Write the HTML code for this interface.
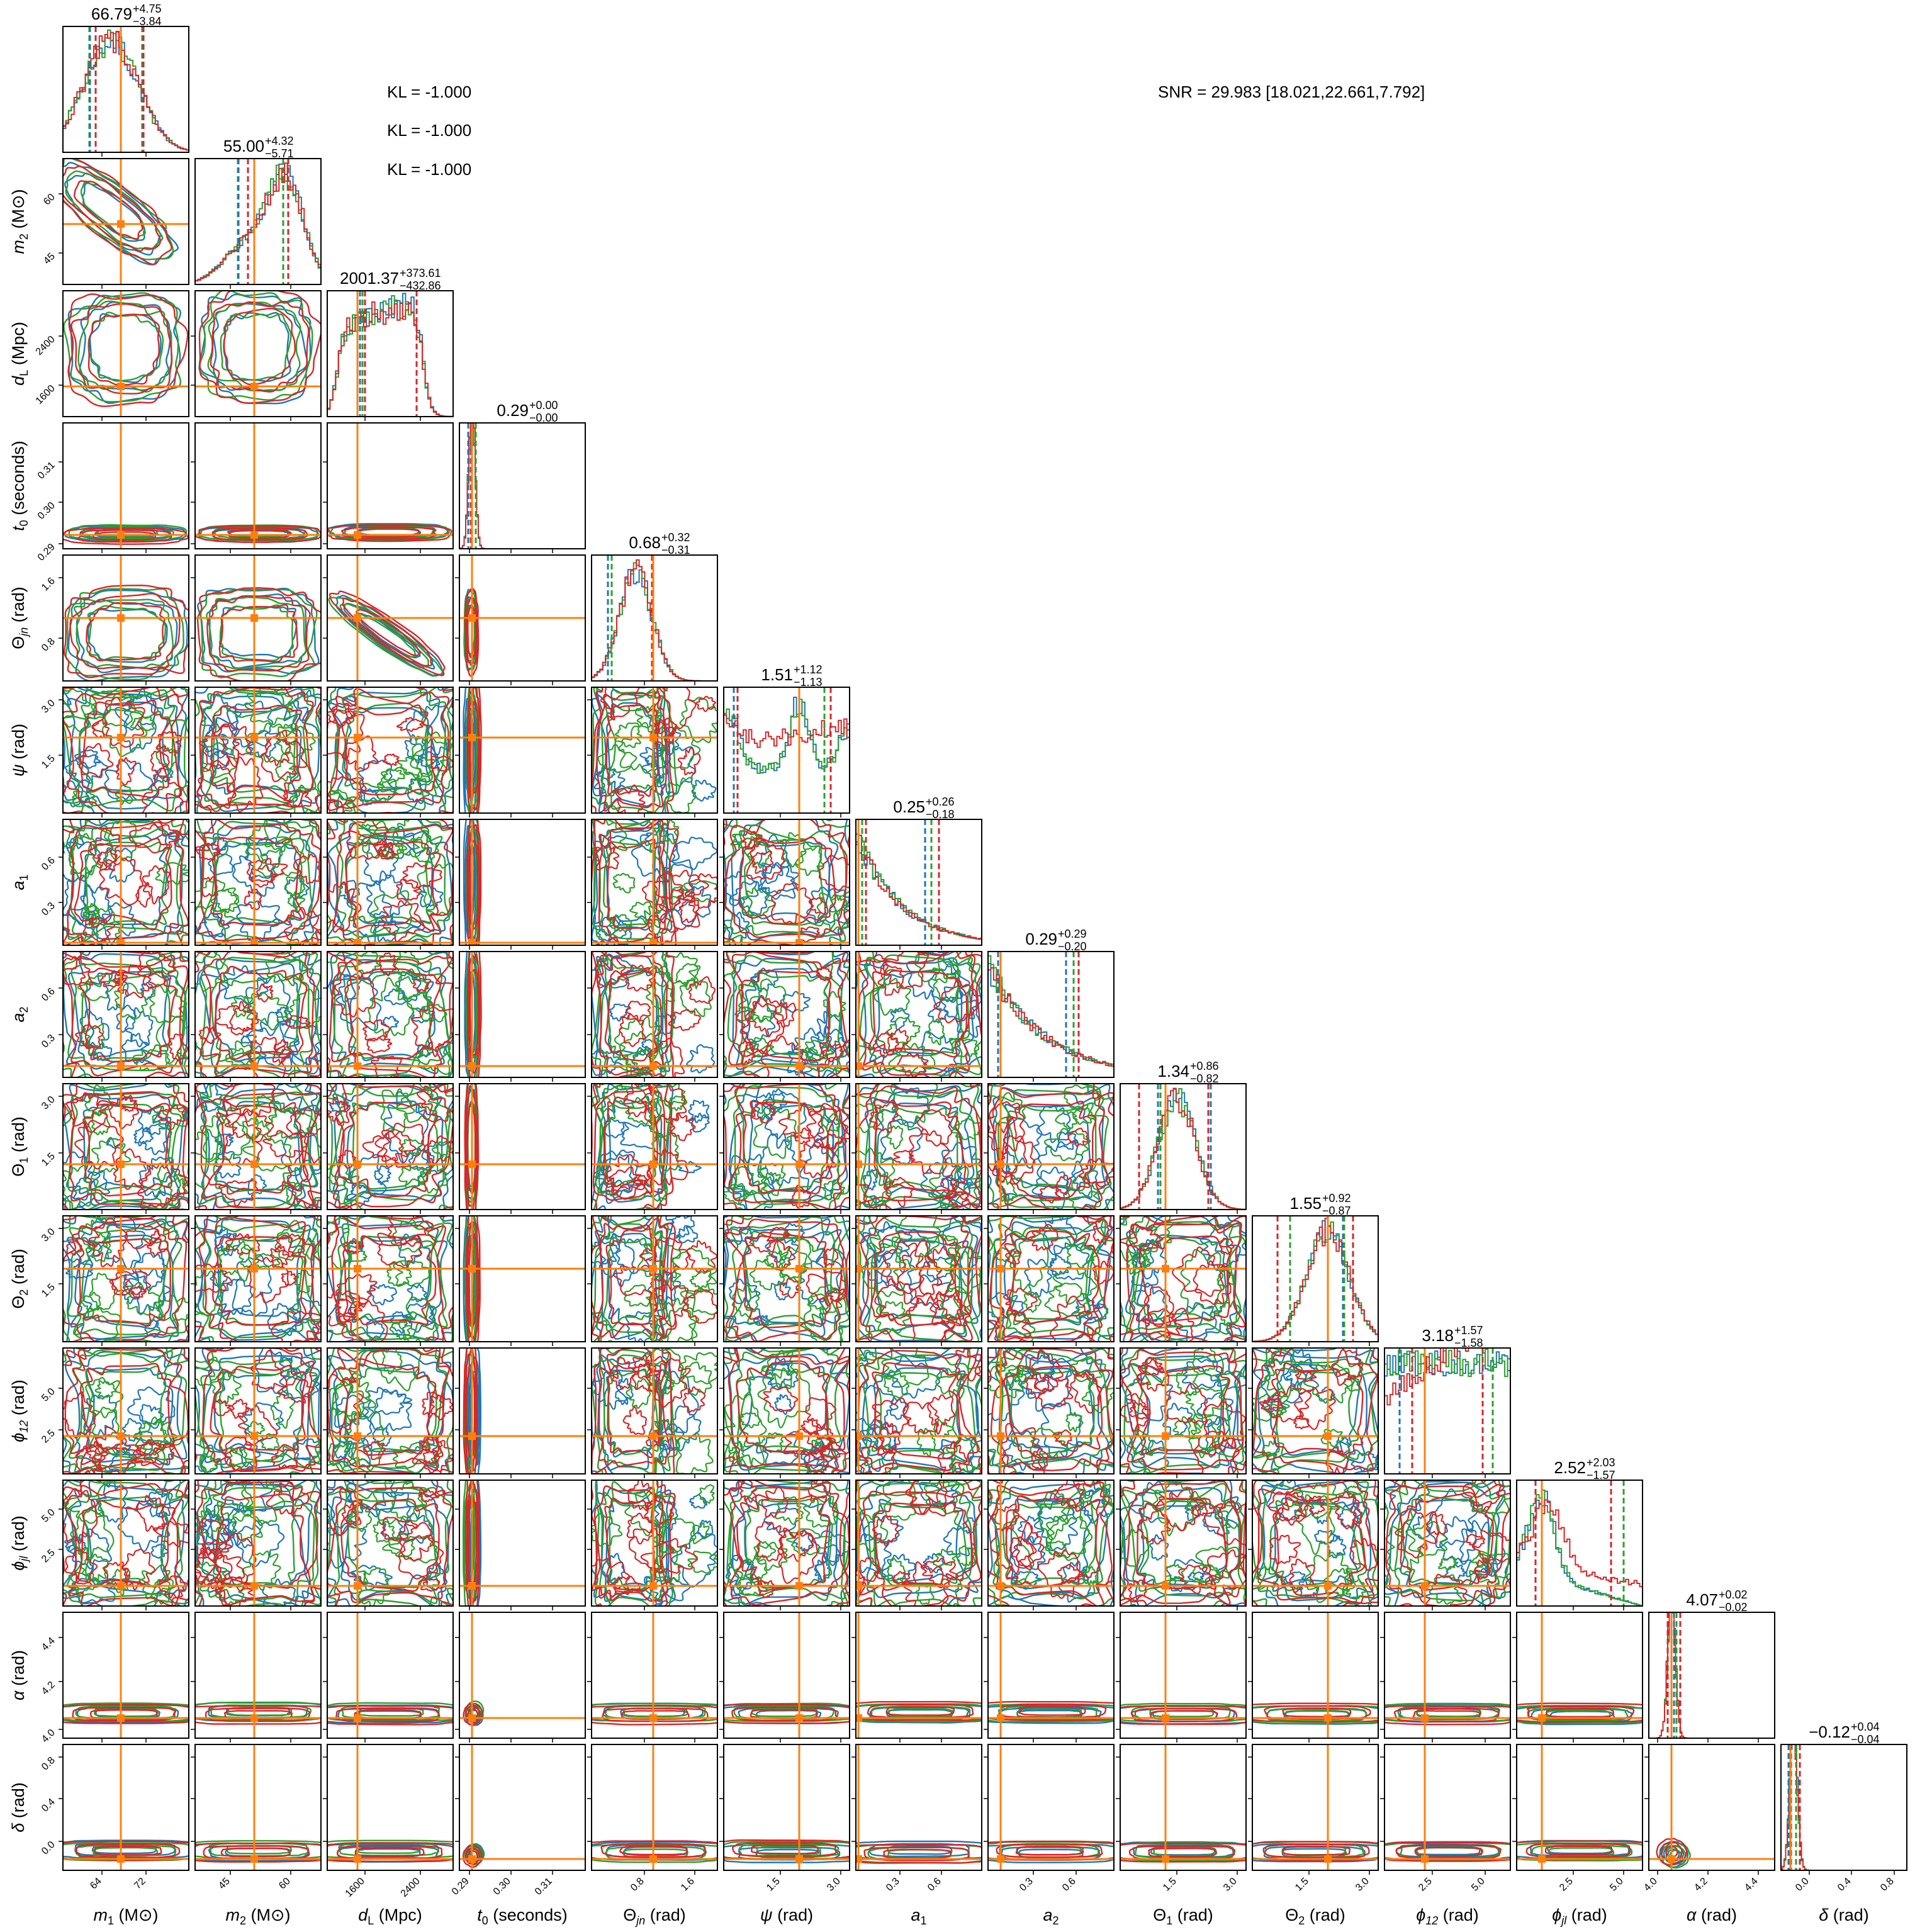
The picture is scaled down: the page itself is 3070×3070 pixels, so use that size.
<!DOCTYPE html>
<html><head><meta charset="utf-8"><style>
html,body{margin:0;padding:0;background:#fff;}
svg{display:block;font-family:"Liberation Sans","DejaVu Sans",sans-serif;}
</style></head><body>
<svg id="root" xmlns="http://www.w3.org/2000/svg" width="3070" height="3070" viewBox="0 0 3070 3070">
<rect width="3070" height="3070" fill="#fff"/>
<g id="plots"></g>
<g font-size="26" fill="#000">
<text x="615" y="155">KL = -1.000</text>
<text x="615" y="216">KL = -1.000</text>
<text x="615" y="278">KL = -1.000</text>
<text x="1840" y="155">SNR = 29.983 [18.021,22.661,7.792]</text>
</g>
<g font-size="26">
<text x="210" y="31" text-anchor="end">66.79</text><text x="211" y="20" font-size="18">+4.75</text><text x="211" y="40" font-size="18">−3.84</text>
<text x="420" y="241" text-anchor="end">55.00</text><text x="421" y="230" font-size="18">+4.32</text><text x="421" y="250" font-size="18">−5.71</text>
<text x="634" y="451" text-anchor="end">2001.37</text><text x="635" y="440" font-size="18">+373.61</text><text x="635" y="460" font-size="18">−432.86</text>
<text x="840" y="661" text-anchor="end">0.29</text><text x="841" y="650" font-size="18">+0.00</text><text x="841" y="670" font-size="18">−0.00</text>
<text x="1050" y="871" text-anchor="end">0.68</text><text x="1051" y="860" font-size="18">+0.32</text><text x="1051" y="880" font-size="18">−0.31</text>
<text x="1260" y="1081" text-anchor="end">1.51</text><text x="1261" y="1070" font-size="18">+1.12</text><text x="1261" y="1090" font-size="18">−1.13</text>
<text x="1470" y="1291" text-anchor="end">0.25</text><text x="1471" y="1280" font-size="18">+0.26</text><text x="1471" y="1300" font-size="18">−0.18</text>
<text x="1680" y="1501" text-anchor="end">0.29</text><text x="1681" y="1490" font-size="18">+0.29</text><text x="1681" y="1510" font-size="18">−0.20</text>
<text x="1890" y="1711" text-anchor="end">1.34</text><text x="1891" y="1700" font-size="18">+0.86</text><text x="1891" y="1720" font-size="18">−0.82</text>
<text x="2100" y="1921" text-anchor="end">1.55</text><text x="2101" y="1910" font-size="18">+0.92</text><text x="2101" y="1930" font-size="18">−0.87</text>
<text x="2310" y="2131" text-anchor="end">3.18</text><text x="2311" y="2120" font-size="18">+1.57</text><text x="2311" y="2140" font-size="18">−1.58</text>
<text x="2520" y="2341" text-anchor="end">2.52</text><text x="2521" y="2330" font-size="18">+2.03</text><text x="2521" y="2350" font-size="18">−1.57</text>
<text x="2730" y="2551" text-anchor="end">4.07</text><text x="2731" y="2540" font-size="18">+0.02</text><text x="2731" y="2560" font-size="18">−0.02</text>
<text x="2940" y="2761" text-anchor="end">−0.12</text><text x="2941" y="2750" font-size="18">+0.04</text><text x="2941" y="2770" font-size="18">−0.04</text>
</g>
<g font-size="16" text-anchor="end">
<text x="162" y="2990" transform="rotate(-45 162 2990)">64</text>
<text x="232" y="2990" transform="rotate(-45 232 2990)">72</text>
<text x="366" y="2990" transform="rotate(-45 366 2990)">45</text>
<text x="462" y="2990" transform="rotate(-45 462 2990)">60</text>
<text x="580" y="2990" transform="rotate(-45 580 2990)">1600</text>
<text x="668" y="2990" transform="rotate(-45 668 2990)">2400</text>
<text x="746" y="2990" transform="rotate(-45 746 2990)">0.29</text>
<text x="812" y="2990" transform="rotate(-45 812 2990)">0.30</text>
<text x="878" y="2990" transform="rotate(-45 878 2990)">0.31</text>
<text x="1024" y="2990" transform="rotate(-45 1024 2990)">0.8</text>
<text x="1104" y="2990" transform="rotate(-45 1104 2990)">1.6</text>
<text x="1240" y="2990" transform="rotate(-45 1240 2990)">1.5</text>
<text x="1336" y="2990" transform="rotate(-45 1336 2990)">3.0</text>
<text x="1430" y="2990" transform="rotate(-45 1430 2990)">0.3</text>
<text x="1496" y="2990" transform="rotate(-45 1496 2990)">0.6</text>
<text x="1642" y="2990" transform="rotate(-45 1642 2990)">0.3</text>
<text x="1710" y="2990" transform="rotate(-45 1710 2990)">0.6</text>
<text x="1870" y="2990" transform="rotate(-45 1870 2990)">1.5</text>
<text x="1966" y="2990" transform="rotate(-45 1966 2990)">3.0</text>
<text x="2080" y="2990" transform="rotate(-45 2080 2990)">1.5</text>
<text x="2176" y="2990" transform="rotate(-45 2176 2990)">3.0</text>
<text x="2276" y="2990" transform="rotate(-45 2276 2990)">2.5</text>
<text x="2360" y="2990" transform="rotate(-45 2360 2990)">5.0</text>
<text x="2500" y="2990" transform="rotate(-45 2500 2990)">2.5</text>
<text x="2580" y="2990" transform="rotate(-45 2580 2990)">5.0</text>
<text x="2634" y="2990" transform="rotate(-45 2634 2990)">4.0</text>
<text x="2714" y="2990" transform="rotate(-45 2714 2990)">4.2</text>
<text x="2794" y="2990" transform="rotate(-45 2794 2990)">4.4</text>
<text x="2875" y="2990" transform="rotate(-45 2875 2990)">0.0</text>
<text x="2942" y="2990" transform="rotate(-45 2942 2990)">0.4</text>
<text x="3010" y="2990" transform="rotate(-45 3010 2990)">0.8</text>

<text x="88" y="314" transform="rotate(-45 88 314)">60</text>
<text x="88" y="408" transform="rotate(-45 88 408)">45</text>
<text x="88" y="540" transform="rotate(-45 88 540)">2400</text>
<text x="88" y="618" transform="rotate(-45 88 618)">1600</text>
<text x="88" y="740" transform="rotate(-45 88 740)">0.31</text>
<text x="88" y="804" transform="rotate(-45 88 804)">0.30</text>
<text x="88" y="870" transform="rotate(-45 88 870)">0.29</text>
<text x="88" y="924" transform="rotate(-45 88 924)">1.6</text>
<text x="88" y="1020" transform="rotate(-45 88 1020)">0.8</text>
<text x="88" y="1118" transform="rotate(-45 88 1118)">3.0</text>
<text x="88" y="1206" transform="rotate(-45 88 1206)">1.5</text>
<text x="88" y="1368" transform="rotate(-45 88 1368)">0.6</text>
<text x="88" y="1440" transform="rotate(-45 88 1440)">0.3</text>
<text x="88" y="1576" transform="rotate(-45 88 1576)">0.6</text>
<text x="88" y="1650" transform="rotate(-45 88 1650)">0.3</text>
<text x="88" y="1748" transform="rotate(-45 88 1748)">3.0</text>
<text x="88" y="1838" transform="rotate(-45 88 1838)">1.5</text>
<text x="88" y="1958" transform="rotate(-45 88 1958)">3.0</text>
<text x="88" y="2046" transform="rotate(-45 88 2046)">1.5</text>
<text x="88" y="2212" transform="rotate(-45 88 2212)">5.0</text>
<text x="88" y="2278" transform="rotate(-45 88 2278)">2.5</text>
<text x="88" y="2404" transform="rotate(-45 88 2404)">5.0</text>
<text x="88" y="2468" transform="rotate(-45 88 2468)">2.5</text>
<text x="88" y="2608" transform="rotate(-45 88 2608)">4.4</text>
<text x="88" y="2678" transform="rotate(-45 88 2678)">4.2</text>
<text x="88" y="2754" transform="rotate(-45 88 2754)">4.0</text>
<text x="88" y="2798" transform="rotate(-45 88 2798)">0.8</text>
<text x="88" y="2864" transform="rotate(-45 88 2864)">0.4</text>
<text x="88" y="2932" transform="rotate(-45 88 2932)">0.0</text>
</g>
<g font-size="27" text-anchor="middle">
<text x="200" y="3052"><tspan font-style="italic">m</tspan><tspan font-size="18" dy="6">1</tspan><tspan dy="-6"> (M⊙)</tspan></text>
<text x="410" y="3052"><tspan font-style="italic">m</tspan><tspan font-size="18" dy="6">2</tspan><tspan dy="-6"> (M⊙)</tspan></text>
<text x="620" y="3052"><tspan font-style="italic">d</tspan><tspan font-size="18" dy="6">L</tspan><tspan dy="-6"> (Mpc)</tspan></text>
<text x="830" y="3052"><tspan font-style="italic">t</tspan><tspan font-size="18" dy="6">0</tspan><tspan dy="-6"> (seconds)</tspan></text>
<text x="1040" y="3052">Θ<tspan font-size="18" dy="6" font-style="italic">jn</tspan><tspan dy="-6"> (rad)</tspan></text>
<text x="1250" y="3052"><tspan font-style="italic">ψ</tspan> (rad)</text>
<text x="1460" y="3052"><tspan font-style="italic">a</tspan><tspan font-size="18" dy="6">1</tspan></text>
<text x="1670" y="3052"><tspan font-style="italic">a</tspan><tspan font-size="18" dy="6">2</tspan></text>
<text x="1880" y="3052">Θ<tspan font-size="18" dy="6">1</tspan><tspan dy="-6"> (rad)</tspan></text>
<text x="2090" y="3052">Θ<tspan font-size="18" dy="6">2</tspan><tspan dy="-6"> (rad)</tspan></text>
<text x="2300" y="3052"><tspan font-style="italic">ϕ</tspan><tspan font-size="18" dy="6" font-style="italic">12</tspan><tspan dy="-6"> (rad)</tspan></text>
<text x="2510" y="3052"><tspan font-style="italic">ϕ</tspan><tspan font-size="18" dy="6" font-style="italic">jl</tspan><tspan dy="-6"> (rad)</tspan></text>
<text x="2720" y="3052"><tspan font-style="italic">α</tspan> (rad)</text>
<text x="2930" y="3052"><tspan font-style="italic">δ</tspan> (rad)</text>
</g>
<g font-size="27" text-anchor="middle">
<text transform="translate(38 352) rotate(-90)"><tspan font-style="italic">m</tspan><tspan font-size="18" dy="6">2</tspan><tspan dy="-6"> (M⊙)</tspan></text>
<text transform="translate(38 562) rotate(-90)"><tspan font-style="italic">d</tspan><tspan font-size="18" dy="6">L</tspan><tspan dy="-6"> (Mpc)</tspan></text>
<text transform="translate(38 772) rotate(-90)"><tspan font-style="italic">t</tspan><tspan font-size="18" dy="6">0</tspan><tspan dy="-6"> (seconds)</tspan></text>
<text transform="translate(38 982) rotate(-90)">Θ<tspan font-size="18" dy="6" font-style="italic">jn</tspan><tspan dy="-6"> (rad)</tspan></text>
<text transform="translate(38 1192) rotate(-90)"><tspan font-style="italic">ψ</tspan> (rad)</text>
<text transform="translate(38 1402) rotate(-90)"><tspan font-style="italic">a</tspan><tspan font-size="18" dy="6">1</tspan></text>
<text transform="translate(38 1612) rotate(-90)"><tspan font-style="italic">a</tspan><tspan font-size="18" dy="6">2</tspan></text>
<text transform="translate(38 1822) rotate(-90)">Θ<tspan font-size="18" dy="6">1</tspan><tspan dy="-6"> (rad)</tspan></text>
<text transform="translate(38 2032) rotate(-90)">Θ<tspan font-size="18" dy="6">2</tspan><tspan dy="-6"> (rad)</tspan></text>
<text transform="translate(38 2242) rotate(-90)"><tspan font-style="italic">ϕ</tspan><tspan font-size="18" dy="6" font-style="italic">12</tspan><tspan dy="-6"> (rad)</tspan></text>
<text transform="translate(38 2452) rotate(-90)"><tspan font-style="italic">ϕ</tspan><tspan font-size="18" dy="6" font-style="italic">jl</tspan><tspan dy="-6"> (rad)</tspan></text>
<text transform="translate(38 2662) rotate(-90)"><tspan font-style="italic">α</tspan> (rad)</text>
<text transform="translate(38 2872) rotate(-90)"><tspan font-style="italic">δ</tspan> (rad)</text>
</g>
</svg>
<script>
(function(){
var NS='http://www.w3.org/2000/svg';
var root=document.getElementById('plots');
function el(t,a,p){var e=document.createElementNS(NS,t);for(var k in a)e.setAttribute(k,a[k]);(p||root).appendChild(e);return e;}
var COL={b:'#1f77b4',g:'#2ca02c',r:'#d62728'},CK=['b','g','r'],OR='#ff7f0e';
function rng(a){return function(){a|=0;a=a+0x6D2B79F5|0;var t=Math.imul(a^a>>>15,1|a);t=t+Math.imul(t^t>>>7,61|t)^t;return((t^t>>>14)>>>0)/4294967296;};}
var X=[.46,.47,.24,.1,.49,.6,.02,.1,.36,.6,.32,.2,.18,.075];
var Y=[0,.52,.76,.89,.5,.4,.98,.91,.64,.42,.7,.84,.84,.91];
var XT=[[.31,.66],[.28,.76],[.3,.74],[.08,.41,.74],[.42,.82],[.45,.93],[.35,.68],[.36,.7],[.45,.93],[.45,.93],[.38,.8],[.45,.85],[.07,.47,.87],[.225,.56,.9]];
var YT=[[],[.28,.75],[.36,.75],[.31,.63,.96],[.18,.66],[.1,.54],[.3,.66],[.29,.66],[.1,.55],[.1,.54],[.32,.65],[.23,.55],[.2,.55,.93],[.1,.43,.77]];
function L(i){return 100+210*i;} function T(j){return 42+210*j;}
function blob(cx,cy,rx,ry,rot,n,noise,R){
  var hs=[];for(var k=2;k<=14;k++)hs.push([k,noise*(R()*2-1)*1.6/Math.sqrt(k),R()*6.283]);
  var d='',N=120,cr=Math.cos(rot*Math.PI/180),sr=Math.sin(rot*Math.PI/180);
  for(var i=0;i<N;i++){var t=i/N*6.2832,c=Math.cos(t),s=Math.sin(t);
    var x=rx*Math.sign(c)*Math.pow(Math.abs(c),2/n),y=ry*Math.sign(s)*Math.pow(Math.abs(s),2/n);
    var f=1;for(var q=0;q<hs.length;q++){f+=hs[q][1]*Math.sin(hs[q][0]*t+hs[q][2]);}
    x*=f;y*=f;var X2=(x*cr-y*sr+cx)*200,Y2=(x*sr+y*cr+cy)*200;
    d+=(i?'L':'M')+X2.toFixed(1)+' '+Y2.toFixed(1);}
  return d+'Z';}
function ang(v){return v>=5&&v<=11;}
function spec(r,c){
  var s={cx:.5,cy:.5,rx:.46,ry:.46,rot:0,n:4,noise:.05,lv:[1,.82,.62],msg:false};
  if(ang(r)||ang(c)){s.rx=.52;s.ry=.52;s.n=5;s.noise=.08;s.msg=true;}
  if(c==4&&r>=5&&r<=11){s.cx=.32;s.rx=.3;}
  if(r==4&&c<2){s.cy=.62;s.ry=.33;}
  if(r==4&&c==2)s={cx:.47,cy:.63,rx:.52,ry:.1,rot:35,n:2.2,noise:.03,lv:[1,.8,.55]};
  if(r==1&&c==0)s={cx:.38,cy:.42,rx:.55,ry:.2,rot:38,n:2.5,noise:.04,lv:[1,.8,.55]};
  if(r==2&&c<2){s.n=3;s.rx=.43;s.ry=.42;s.cy=.45;}
  if(c==3){if(r>=12)s={cx:.12,cy:r==12?.8:.87,rx:.07,ry:.08,rot:0,n:2,noise:.02,lv:[1,.75,.5]};
    else s={cx:.1,cy:r==4?.6:.5,rx:.05,ry:r==4?.32:.56,rot:0,n:2.5,noise:.03,lv:[1,.8,.6]};}
  if(r==3)s={cx:.5,cy:.88,rx:.47,ry:.06,rot:0,n:3,noise:.02,lv:[1,.75,.5]};
  if(r>=12&&c!=3){if(r==13&&c==12)s={cx:.2,cy:.87,rx:.11,ry:.1,rot:0,n:2,noise:.02,lv:[1,.7,.4]};
    else s={cx:.5,cy:r==12?.8:.85,rx:.56,ry:.07,rot:0,n:4,noise:.015,lv:[1,.7,.45]};}
  return s;}
function g(x,m,w){return Math.exp(-0.5*(x-m)*(x-m)/(w*w));}
function dens(i,x,k){switch(i){
 case 0:return g(x,.38,.22);
 case 1:return .75*g(x,.73,.14)+.35*g(x,.45,.2);
 case 2:return (1/(1+Math.exp(-(x-.08)/.03)))*(1/(1+Math.exp((x-.76)/.03)))*(.7+.3*x);
 case 3:return g(x,.1,.025);
 case 4:return g(x,.35,.13);
 case 5:return k==2?(.55+.2*g(x,0,.1)+.15*x):(.35+.55*g(x,.6,.08)+.55*g(x,0,.1)+.35*g(x,1,.08));
 case 6:return Math.exp(-x/.35);
 case 7:return Math.exp(-x/.45);
 case 8:return g(x,.45,.15);
 case 9:return g(x,.6,.17);
 case 10:return k==2?(.3+.4*x):.45;
 case 11:return k==2?(.4+.6*g(x,.25,.12)-.2*x):(.75*g(x,.2,.1)+.35*(1-x));
 case 12:return g(x,.18,.03);
 case 13:return g(x,.1,.03);}}
var DASH=[[[.21,'g'],[.215,'b'],[.26,'r'],[.63,'b'],[.635,'g'],[.64,'r']],
[[.34,'g'],[.345,'b'],[.42,'r'],[.7,'g'],[.74,'r']],
[[.26,'b'],[.28,'g'],[.3,'r'],[.71,'r']],
[[.07,'b'],[.09,'r'],[.13,'g']],
[[.13,'b'],[.16,'g'],[.48,'r'],[.49,'b']],
[[.08,'b'],[.11,'r'],[.8,'g'],[.85,'r']],
[[.05,'g'],[.08,'r'],[.55,'b'],[.6,'g'],[.66,'r']],
[[.08,'b'],[.1,'r'],[.62,'b'],[.68,'g'],[.72,'r']],
[[.15,'r'],[.3,'b'],[.32,'g'],[.7,'r'],[.72,'b']],
[[.2,'r'],[.3,'g'],[.72,'b'],[.73,'g'],[.8,'r']],
[[.12,'b'],[.22,'r'],[.78,'r'],[.86,'g']],
[[.15,'r'],[.75,'r'],[.85,'g']],
[[.15,'r'],[.2,'b'],[.22,'g'],[.25,'r']],
[[.06,'b'],[.08,'r'],[.12,'g'],[.15,'r']]];
var spikes={3:1,12:1,13:1};
for(var r=0;r<14;r++)for(var c=0;c<=r;c++){
  var sv=el('svg',{x:L(c),y:T(r),width:200,height:200,viewBox:'0 0 200 200'});
  var R=rng(r*97+c*13+7);
  if(r==c){
    var nb=spikes[r]?80:45;
    var ref=0;for(var b2=0;b2<200;b2++){ref=Math.max(ref,dens(r,(b2+.5)/200,0));}
    for(var k=0;k<3;k++){
      var vals=[];
      for(var b=0;b<nb;b++){var x=(b+.5)/nb;vals.push(dens(r,x,k)*(1+(R()-.5)*0.25));}
      var sc=spikes[r]?1.15:0.88;
      var d='M0 200';
      for(var b=0;b<nb;b++){var h=200-Math.min(vals[b]/ref*sc,1.3)*200;d+='L'+(b/nb*200).toFixed(1)+' '+h.toFixed(1)+'L'+((b+1)/nb*200).toFixed(1)+' '+h.toFixed(1);}
      d+='L200 200';
      el('path',{d:d,fill:'none',stroke:COL[CK[k]],'stroke-width':2},sv);
    }
    for(var q=0;q<DASH[r].length;q++){var dd=DASH[r][q];var xx=dd[0]*200;el('line',{x1:xx,y1:0,x2:xx,y2:200,stroke:COL[dd[1]],'stroke-width':3,'stroke-dasharray':'9 5'},sv);}
    el('line',{x1:X[c]*200,y1:0,x2:X[c]*200,y2:200,stroke:OR,'stroke-width':3},sv);
  } else {
    var s=spec(r,c);
    for(var k=0;k<3;k++){
      var ox=(R()-.5)*.04,oy=(R()-.5)*.04,scl=k==2?1.05:1;
      for(var li=0;li<s.lv.length;li++){var lv=s.lv[li];
        el('path',{d:blob(s.cx+ox,s.cy+oy,s.rx*lv*scl,s.ry*lv*scl,s.rot,s.n,s.noise,R),fill:'none',stroke:COL[CK[k]],'stroke-width':2.4},sv);
      }
      if(s.msg){for(var m=0;m<7;m++){var rr=.05+R()*.12;
        el('path',{d:blob(.08+R()*.84,.08+R()*.84,rr,rr*(.6+R()*.8),0,2,.15,R),fill:'none',stroke:COL[CK[k]],'stroke-width':2.2},sv);}}
    }
    var tx=X[c]*200,ty=Y[r]*200;
    el('line',{x1:tx,y1:0,x2:tx,y2:200,stroke:OR,'stroke-width':3},sv);
    el('line',{x1:0,y1:ty,x2:200,y2:ty,stroke:OR,'stroke-width':3},sv);
    el('rect',{x:tx-6,y:ty-6,width:12,height:12,fill:OR},sv);
  }
  el('rect',{x:L(c),y:T(r),width:200,height:200,fill:'none',stroke:'#000','stroke-width':2});
  for(var q=0;q<XT[c].length;q++){var xx=L(c)+XT[c][q]*200;el('line',{x1:xx,y1:T(r)+200,x2:xx,y2:T(r)+207,stroke:'#000','stroke-width':1.5});}
  if(r>c)for(var q=0;q<YT[r].length;q++){var yy=T(r)+YT[r][q]*200;el('line',{x1:L(c)-7,y1:yy,x2:L(c),y2:yy,stroke:'#000','stroke-width':1.5});}
}
})();
</script>
</body></html>
